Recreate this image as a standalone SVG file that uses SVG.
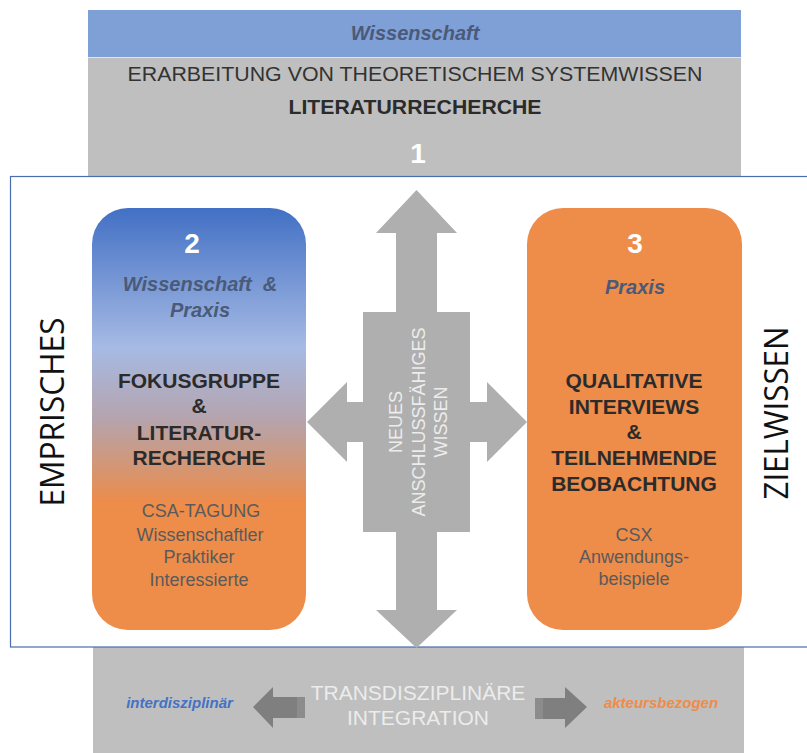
<svg xmlns="http://www.w3.org/2000/svg" width="807" height="753" viewBox="0 0 807 753">
<style>
  text { font-family: "Liberation Sans", Arial, sans-serif; text-anchor: middle; }
  .b { font-weight: bold; }
  .bi { font-weight: bold; font-style: italic; }
  .dark { fill: #2b2b2b; }
  .sub { fill: #5a5a5a; font-size: 18px; }
  .head { fill: #4a5a78; font-size: 20px; }
  .num { fill: #ffffff; font-size: 28px; font-weight: bold; }
  .big { fill: #2b2b2b; font-size: 21px; font-weight: bold; }
  .side { font-family: "Open Sans", "Noto Sans", sans-serif; font-size: 32px; fill: #111111; }
  .gray { fill: #bfbfbf; }
</style>
<defs>
  <linearGradient id="grad2" x1="0" y1="0" x2="0" y2="1">
    <stop offset="0" stop-color="#4270c4"/>
    <stop offset="0.33" stop-color="#a6bae4"/>
    <stop offset="0.5" stop-color="#b5a4ad"/>
    <stop offset="0.63" stop-color="#d8946c"/>
    <stop offset="0.7" stop-color="#ee8c4a"/>
    <stop offset="1" stop-color="#ee8c4a"/>
  </linearGradient>
</defs>
<rect width="807" height="753" fill="#ffffff"/>

<g id="top-band">
  <rect x="88" y="10" width="653" height="47" fill="#7f9fd7"/>
  <rect x="88" y="57" width="653" height="125" class="gray"/>
  <line x1="88" y1="57.5" x2="741" y2="57.5" stroke="#dfe5ef" stroke-width="1"/>
  <text x="415" y="40" class="bi head">Wissenschaft</text>
  <text x="415" y="81" font-size="20" fill="#333333" textLength="575" lengthAdjust="spacingAndGlyphs">ERARBEITUNG VON THEORETISCHEM SYSTEMWISSEN</text>
  <text x="415" y="114" class="b dark" font-size="20" textLength="253" lengthAdjust="spacingAndGlyphs">LITERATURRECHERCHE</text>
  <text x="418" y="163" class="num" font-size="26">1</text>
</g>

<g id="bottom-band">
  <rect x="93" y="647" width="651" height="106" class="gray"/>
  <text x="418" y="700" font-size="21" fill="#ececec">TRANSDISZIPLINÄRE</text>
  <text x="418" y="725" font-size="21" fill="#ececec">INTEGRATION</text>
  <text x="179.5" y="708" class="bi" font-size="15" fill="#4472c4">interdisziplinär</text>
  <text x="661" y="708" class="bi" font-size="15" fill="#ee8c4a">akteursbezogen</text>
</g>

<g id="frame">
  <rect x="10.5" y="176.5" width="820" height="470.5" fill="#ffffff" stroke="#4a6cb0" stroke-width="1.2"/>
  <text class="side" transform="translate(64,412) rotate(-90)" textLength="189" lengthAdjust="spacingAndGlyphs">EMPRISCHES</text>
  <text class="side" transform="translate(788,413) rotate(-90)" textLength="173" lengthAdjust="spacingAndGlyphs">ZIELWISSEN</text>
</g>

<g id="connectors">
  <polygon fill="#afafaf" points="416.5,190 457,233 437,233 437,312 470,312 470,402 487,402 487,382 527,422 487,462 487,442 470,442 470,532 437,532 437,610 457,610 416.5,648 376,610 396,610 396,532 363,532 363,442 347,442 347,462 307,422 347,382 347,402 363,402 363,312 396,312 396,233 376,233"/>
  <text transform="translate(402,422) rotate(-90)" font-size="18" fill="#ececec">NEUES</text>
  <text transform="translate(425,422) rotate(-90)" font-size="18" fill="#ececec">ANSCHLUSSFÄHIGES</text>
  <text transform="translate(447,422) rotate(-90)" font-size="18" fill="#ececec">WISSEN</text>
  <polygon fill="#7f7f7f" points="253,707 273,687 273,697 305,697 305,718 273,718 273,728"/>
  <rect x="297" y="697" width="8" height="21" fill="#8c8c8c"/>
  <polygon fill="#7f7f7f" points="587,707 565,687 565,698 535,698 535,719 565,719 565,728"/>
  <rect x="535" y="698" width="8" height="21" fill="#8c8c8c"/>
</g>

<g id="node-2">
  <rect x="92" y="208" width="214" height="422" rx="36" fill="url(#grad2)"/>
  <text x="192" y="253" class="num">2</text>
  <text x="200" y="291" class="bi head" xml:space="preserve">Wissenschaft  &amp;</text>
  <text x="200" y="317" class="bi head">Praxis</text>
  <text x="199" y="388" class="big">FOKUSGRUPPE</text>
  <text x="199" y="413" class="big">&amp;</text>
  <text x="199" y="440" class="big">LITERATUR-</text>
  <text x="199" y="465" class="big">RECHERCHE</text>
  <text x="201" y="517" class="sub">CSA-TAGUNG</text>
  <text x="200" y="541" class="sub">Wissenschaftler</text>
  <text x="199" y="563" class="sub">Praktiker</text>
  <text x="199" y="586" class="sub">Interessierte</text>
</g>

<g id="node-3">
  <rect x="527" y="208" width="215" height="422" rx="36" fill="#ee8c4a"/>
  <text x="635" y="253" class="num">3</text>
  <text x="635" y="294" class="bi head">Praxis</text>
  <text x="634" y="388" class="big">QUALITATIVE</text>
  <text x="634" y="414" class="big">INTERVIEWS</text>
  <text x="634" y="439" class="big">&amp;</text>
  <text x="634" y="465" class="big">TEILNEHMENDE</text>
  <text x="634" y="491" class="big">BEOBACHTUNG</text>
  <text x="634" y="541" class="sub">CSX</text>
  <text x="634" y="563" class="sub">Anwendungs-</text>
  <text x="634" y="585" class="sub">beispiele</text>
</g>
</svg>
